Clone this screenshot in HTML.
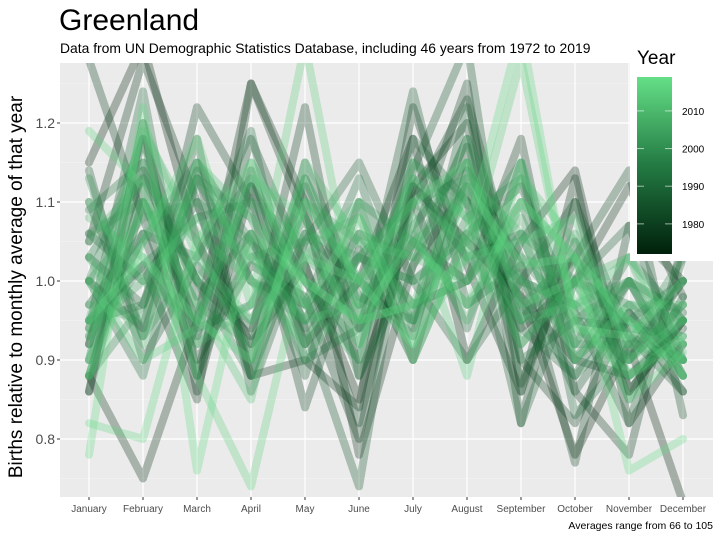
<!DOCTYPE html>
<html><head><meta charset="utf-8"><style>
body{margin:0;background:#fff;}
svg{display:block;font-family:"Liberation Sans",sans-serif;}
</style></head><body>
<svg id="chart" width="720" height="540">
<text x="59" y="30" font-size="30" fill="#000">Greenland</text>
<text x="60" y="53" font-size="13.9" fill="#000">Data from UN Demographic Statistics Database, including 46 years from 1972 to 2019</text>
<rect x="60" y="63" width="653" height="434" fill="#ebebeb"/>
<g id="grid"></g>
<g id="lines"></g>
<g id="axes"></g>
<text transform="translate(22,287) rotate(-90)" text-anchor="middle" font-size="19" fill="#000">Births relative to monthly average of that year</text>
<text x="713" y="529" text-anchor="end" font-size="10.5" fill="#000">Averages range from 66 to 105</text>
<g id="legend">
<rect x="630" y="40" width="83" height="221" fill="#fff"/>
<text x="637" y="64" font-size="19" fill="#000">Year</text>
<defs><linearGradient id="cg" x1="0" y1="1" x2="0" y2="0"><stop offset="0" stop-color="#00200b"/><stop offset="0.5" stop-color="#237a43"/><stop offset="1" stop-color="#65df87"/></linearGradient></defs>
<rect x="637" y="77" width="35" height="177" fill="url(#cg)"/>
<g id="cbticks"></g>
</g>
</svg>
<script>
const months=["January","February","March","April","May","June","July","August","September","October","November","December"];
const yTicks=[0.8,0.9,1.0,1.1,1.2];
const legendYears=[1980,1990,2000,2010];
const years=[1972,1974,1976,1977,1978,1979,1980,1981,1982,1983,1984,1985,1986,1987,1988,1989,1990,1991,1992,1993,1994,1995,1996,1997,1998,1999,2000,2001,2002,2003,2004,2005,2006,2007,2008,2009,2010,2011,2012,2013,2014,2015,2016,2017,2018,2019];
const values=[
[1.15,1.30,1.05,0.92,1.02,0.85,1.12,1.05,0.98,0.78,0.92,0.72],
[0.86,1.20,0.86,1.12,0.92,1.00,1.18,0.90,1.05,1.14,0.86,0.95],
[0.88,0.75,0.95,1.25,1.10,0.78,1.02,1.12,0.94,1.00,1.12,0.98],
[1.05,1.28,1.10,0.88,0.90,0.84,1.22,1.02,0.86,1.13,0.82,0.92],
[0.95,1.02,0.85,1.25,1.08,0.94,1.05,1.00,1.18,0.86,0.78,1.05],
[1.28,1.08,0.90,1.02,0.98,0.80,1.12,1.20,0.90,0.82,0.96,0.86],
[0.92,1.14,1.00,0.93,1.22,0.88,1.05,1.25,0.82,1.10,0.86,0.95],
[1.00,0.94,1.22,1.10,0.84,1.04,0.90,1.14,1.02,0.77,1.07,1.00],
[0.86,1.12,0.93,1.18,1.02,0.82,1.10,1.23,0.98,0.90,0.88,0.94],
[1.10,0.93,1.14,0.88,1.06,1.00,0.93,1.17,0.87,1.03,1.14,0.83],
[0.97,1.06,0.88,1.14,0.94,0.74,1.14,1.30,0.86,1.05,0.90,1.00],
[1.14,0.90,1.02,0.94,1.12,0.95,1.24,0.97,1.02,0.86,0.96,0.88],
[0.92,1.18,0.98,1.06,0.88,1.10,0.90,1.06,1.12,0.96,0.82,1.03],
[1.03,0.97,1.18,0.86,1.05,1.15,1.00,0.90,1.00,1.10,0.93,0.86],
[0.88,1.10,0.95,1.12,1.00,0.90,1.18,1.10,0.82,1.00,1.07,0.90],
[1.06,1.00,1.10,0.90,1.15,0.98,0.95,1.22,0.94,0.88,1.00,0.96],
[0.94,1.24,0.88,1.06,0.94,1.03,1.10,0.94,1.15,0.83,0.91,1.00],
[1.00,0.88,1.13,1.00,0.97,1.13,0.94,1.12,0.95,1.03,0.85,0.98],
[0.90,1.06,1.03,1.19,0.90,0.94,1.12,1.03,1.06,0.90,1.00,0.88],
[1.09,1.15,0.94,0.97,1.08,0.88,1.02,1.18,0.90,0.95,0.94,0.93],
[0.95,0.97,1.15,1.05,0.95,1.06,0.97,1.00,1.10,0.92,1.03,0.95],
[1.03,1.13,1.00,0.88,1.13,0.97,1.07,1.15,0.97,0.88,0.95,1.00],
[0.93,1.02,1.08,1.10,0.97,1.03,1.00,1.06,1.00,0.97,0.90,0.97],
[1.00,1.18,0.92,1.03,1.05,0.94,1.15,1.10,0.92,1.00,0.97,0.90],
[0.88,0.97,1.13,1.08,0.92,1.06,1.03,1.18,1.03,0.95,1.00,0.88],
[1.06,1.10,0.97,0.92,1.10,1.00,0.95,1.08,1.13,0.92,0.92,1.03],
[0.95,1.05,1.15,1.00,0.95,1.10,1.05,0.97,1.06,1.00,0.88,0.95],
[1.13,0.93,1.03,1.13,1.00,0.92,1.10,1.13,0.97,1.03,0.93,0.90],
[0.90,1.15,1.00,0.95,1.06,1.03,1.00,1.05,1.15,0.90,0.97,0.95],
[1.00,1.08,1.10,1.05,0.90,1.00,1.13,1.03,0.95,1.06,0.92,0.95],
[0.94,1.00,0.95,1.15,1.03,0.97,1.05,1.10,1.00,0.97,1.00,0.90],
[1.05,1.13,1.05,0.90,1.10,1.05,0.97,1.00,1.08,0.94,0.90,0.97],
[0.97,0.95,1.13,1.03,0.97,0.90,1.15,1.08,1.03,1.00,0.95,0.92],
[0.88,1.10,1.00,1.10,1.05,1.08,0.95,1.15,1.00,0.92,1.00,0.95],
[1.08,1.03,0.92,0.97,1.13,1.00,1.06,0.95,1.10,1.03,0.88,0.92],
[0.95,1.19,1.06,1.00,0.92,1.03,1.10,1.05,0.92,1.00,1.03,0.88],
[1.03,0.92,1.15,1.08,1.00,0.95,0.97,1.13,1.06,0.90,0.97,0.97],
[0.93,1.10,0.97,0.85,1.15,1.05,1.03,1.00,1.13,1.05,0.92,0.90],
[1.10,1.00,1.08,1.03,0.95,0.97,1.13,1.08,0.95,0.97,0.95,0.90],
[0.90,1.20,1.03,0.95,1.03,1.10,0.92,1.03,1.05,1.08,0.90,0.95],
[1.00,0.90,0.94,1.13,1.08,0.92,1.08,0.88,1.15,0.97,1.03,0.92],
[0.88,1.05,1.18,0.97,1.30,0.95,0.97,1.03,1.28,0.95,0.88,0.93],
[1.19,1.12,0.88,0.74,1.03,1.00,1.10,1.15,0.97,1.00,0.85,0.91],
[0.82,0.80,1.05,1.15,0.97,1.08,0.90,1.06,1.32,0.94,0.93,1.00],
[0.78,1.22,0.76,1.06,1.00,0.95,1.05,0.97,1.10,1.03,0.76,0.80],
[0.95,1.03,0.95,0.90,1.10,1.00,0.92,1.12,1.02,1.03,0.95,0.88]
];
const NS="http://www.w3.org/2000/svg";
const x=i=>89+i*54;
const y=v=>281-(v-1)*790;
const c0=[0,32,11],c1=[35,122,67],c2=[101,223,135];
function col(yr){let t=(yr-1972)/(2019-1972);let a,b,u;if(t<0.5){a=c0;b=c1;u=t*2}else{a=c1;b=c2;u=(t-0.5)*2}
return "rgb("+a.map((v,k)=>Math.round(v+(b[k]-v)*u)).join(",")+")";}
function mk(tag,attrs,parent){const e=document.createElementNS(NS,tag);for(const k in attrs)e.setAttribute(k,attrs[k]);parent.appendChild(e);return e;}
const grid=document.getElementById("grid"),axes=document.getElementById("axes");
[0.75,0.85,0.95,1.05,1.15,1.25].forEach(v=>{const g=mk("line",{x1:60,x2:713,y1:y(v),y2:y(v),stroke:"#f5f5f5","stroke-width":0.6},grid);

});
yTicks.forEach(v=>{const g=mk("line",{x1:60,x2:713,y1:y(v),y2:y(v),stroke:"#fff","stroke-width":1.2},grid);


const t=mk("text",{x:55,y:y(v)+5,"text-anchor":"end","font-size":14,fill:"#4d4d4d"},axes);t.textContent=v.toFixed(1);


mk("line",{x1:57,x2:60,y1:y(v),y2:y(v),stroke:"#333"},axes);});
months.forEach((m,i)=>{const g=mk("line",{x1:x(i),x2:x(i),y1:63,y2:497,stroke:"#fff","stroke-width":1.2},grid);


mk("line",{x1:x(i),x2:x(i),y1:497,y2:500,stroke:"#333"},axes);
const t=mk("text",{x:x(i),y:512,"text-anchor":"middle","font-size":10,fill:"#4d4d4d"},axes);t.textContent=m;

});
const lines=document.getElementById("lines");
const cp=mk("clipPath",{id:"pc"},lines);
mk("rect",{x:60,y:63,width:653,height:434},cp);
lines.setAttribute("clip-path","url(#pc)");
years.forEach((yr,j)=>{const d=values[j].map((v,i)=>(i?"L":"M")+x(i)+","+y(v)).join("");
const p=mk("path",{d:d,fill:"none",stroke:col(yr),"stroke-opacity":0.3,"stroke-width":8,"stroke-linejoin":"round","stroke-linecap":"round"},lines);

});
const cb=document.getElementById("cbticks");
legendYears.forEach(yr=>{const ty=254-(yr-1972)/(2019-1972)*177;
mk("line",{x1:637,x2:644,y1:ty,y2:ty,stroke:"#fff","stroke-opacity":0.6},cb);
mk("line",{x1:665,x2:672,y1:ty,y2:ty,stroke:"#fff","stroke-opacity":0.6},cb);
const t=mk("text",{x:682,y:ty+4,"font-size":10,fill:"#000"},cb);t.textContent=yr;

});
</script>
</body></html>
